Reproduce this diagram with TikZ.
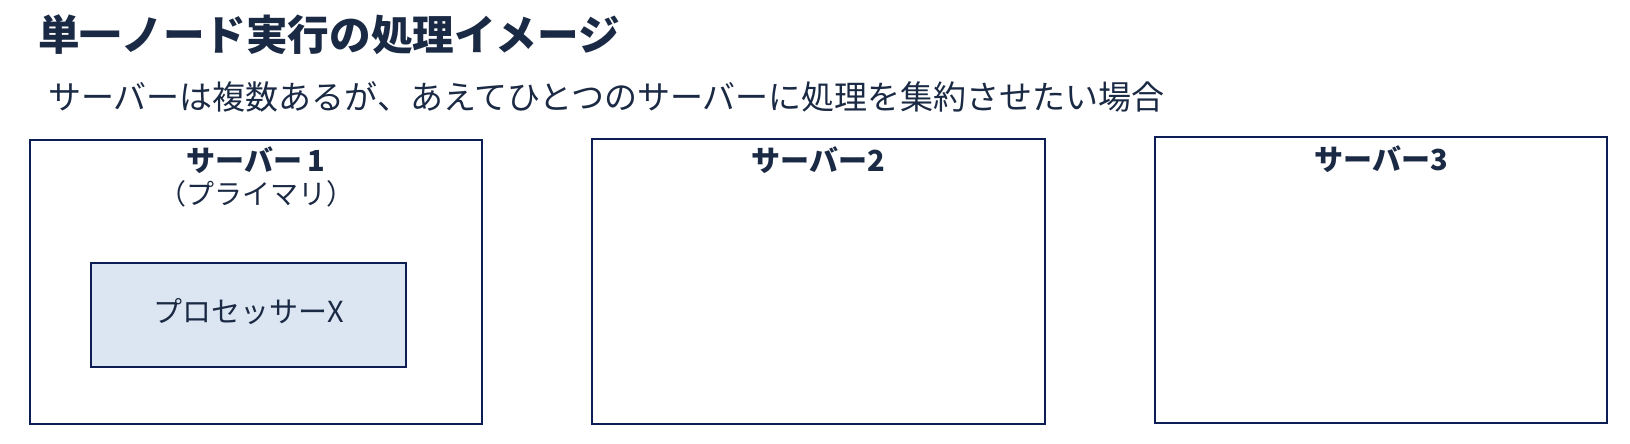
\documentclass[tikz,border=0pt]{standalone}
\usepackage{fontspec}
\setmainfont{Noto Sans CJK JP}
\definecolor{txt}{HTML}{1B2A44}
\definecolor{navy}{HTML}{0D1E55}
\definecolor{procfill}{HTML}{DCE6F2}
\tikzset{
  serverbox/.style={draw=navy, line width=2pt, fill=white, inner sep=0pt},
  procbox/.style={draw=navy, line width=2.8pt, fill=procfill, inner sep=0pt},
  lbl/.style={text=txt, inner sep=0pt, anchor=base},
}
\begin{document}
\begin{tikzpicture}[x=1pt,y=-1pt]
\useasboundingbox[fill=white] (0,0) rectangle (1630,444);
% title and subtitle
\node[lbl, anchor=base west, font=\fontsize{41.6}{48}\selectfont\bfseries] (title) at (38,51) {単一ノード実行の処理イメージ};
\node[lbl, anchor=base west, font=\fontsize{33}{40}\selectfont] (sub) at (48,109) {サーバーは複数あるが、あえてひとつのサーバーに処理を集約させたい場合};
% servers
\node[serverbox, minimum width=452pt, minimum height=284pt] (s1) at (256,282) {};
\node[serverbox, minimum width=453pt, minimum height=285pt] (s2) at (818.5,281.5) {};
\node[serverbox, minimum width=452pt, minimum height=286pt] (s3) at (1381,280) {};
\node[lbl, font=\fontsize{29}{34}\selectfont\bfseries] (s1t) at (256,171) {サーバー\,1};
\node[lbl, font=\fontsize{28}{32}\selectfont] (s1p) at (256,204) {（プライマリ）};
\node[lbl, font=\fontsize{29}{34}\selectfont\bfseries] (s2t) at (818,171) {サーバー2};
\node[lbl, font=\fontsize{29}{34}\selectfont\bfseries] (s3t) at (1381,170) {サーバー3};
% processor
\node[procbox, minimum width=315pt, minimum height=104pt] (px) at (248.5,315) {};
\node[lbl, font=\fontsize{29}{34}\selectfont] (pxt) at (248.5,322) {プロセッサーX};
\end{tikzpicture}
\end{document}
